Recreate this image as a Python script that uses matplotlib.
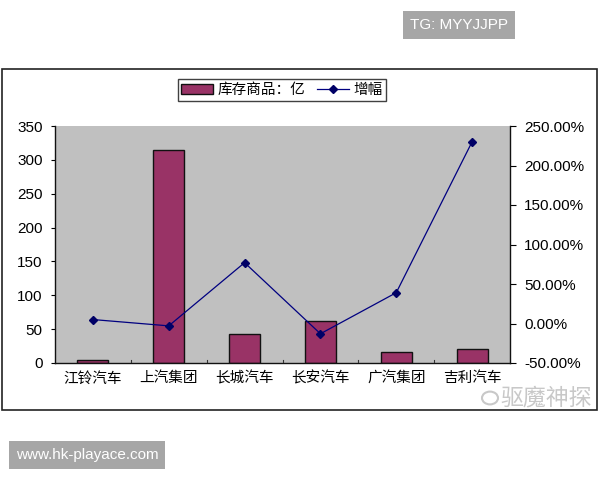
import matplotlib
matplotlib.use("Agg")
import matplotlib.pyplot as plt
from matplotlib.patches import Rectangle, Circle
from matplotlib.ticker import FuncFormatter

plt.rcParams['font.family'] = ['Liberation Sans', 'Noto Sans CJK SC', 'DejaVu Sans']

categories = ['江铃汽车', '上汽集团', '长城汽车', '长安汽车', '广汽集团', '吉利汽车']
inventory = [5, 314, 43, 62, 16, 20]
growth = [5.0, -3.0, 77.0, -13.0, 39.0, 230.0]
left_ticks = [0, 50, 100, 150, 200, 250, 300, 350]
right_ticks = [-50, 0, 50, 100, 150, 200, 250]
bar_label = '库存商品：亿'
line_label = '增幅'

fig = plt.figure(figsize=(6, 4.8), dpi=100)
fig.patch.set_facecolor('white')

# outer chart frame
fig.patches.append(Rectangle((2/600, 1 - 410/480), 595/600, (410-69)/480,
                             transform=fig.transFigure, fill=False,
                             edgecolor='#222222', linewidth=1.2))

ax = fig.add_axes([55/600, 1 - 363/480, 455/600, (363-126)/480])
ax.set_facecolor('#C0C0C0')
x = list(range(len(categories)))
bars = ax.bar(x, inventory, width=0.41, color='#993366', edgecolor='#111111',
              linewidth=1.0, zorder=2, label=bar_label)
ax.set_xlim(-0.5, len(categories) - 0.5)
ax.set_ylim(0, 350)
ax.set_yticks(left_ticks)
ax.set_xticks(x)
ax.set_xticklabels(categories, fontsize=10.5, family=['Noto Sans CJK SC', 'DejaVu Sans'])
ax.tick_params(axis='x', length=0, pad=6)
ax.tick_params(axis='y', labelsize=11, length=3, direction='out', pad=6)
for s in ['top', 'right']:
    ax.spines[s].set_visible(False)
for s in ['left', 'bottom']:
    ax.spines[s].set_color('#111111')
    ax.spines[s].set_linewidth(1.0)
# category separator ticks
for b in [i + 0.5 for i in range(len(categories) - 1)]:
    ax.plot([b, b], [0, 4], color='#333333', linewidth=0.8, zorder=3)

ax2 = ax.twinx()
line, = ax2.plot(x, growth, color='#000080', linewidth=0.9, marker='D',
                 markersize=4.5, markerfacecolor='#000066', markeredgecolor='#000066',
                 zorder=4, label=line_label)
ax2.set_ylim(-50, 250)
ax2.set_yticks(right_ticks)
ax2.yaxis.set_major_formatter(FuncFormatter(lambda v, p: f'{v:.2f}%'))
ax2.tick_params(axis='y', labelsize=11, length=4, direction='out', pad=6)
for s in ['top', 'left', 'bottom']:
    ax2.spines[s].set_visible(False)
ax2.spines['right'].set_color('#111111')
ax2.spines['right'].set_linewidth(1.0)

leg = fig.legend([bars, line], [bar_label, line_label], loc='center',
                 bbox_to_anchor=(282/600, 1 - 90/480), ncol=2, frameon=True,
                 fancybox=False, edgecolor='#111111',
                 prop={'family': ['Noto Sans CJK SC', 'DejaVu Sans'], 'size': 10.5},
                 handlelength=2.2, handletextpad=0.3, columnspacing=0.8,
                 borderpad=0.25, markerscale=0.8)
leg.get_frame().set_linewidth(1.0)

# watermarks
fig.text(459/600, 1 - 25/480, 'TG: MYYJJPP', ha='center', va='center',
         color='white', fontsize=11,
         bbox=dict(boxstyle='square,pad=0.45', facecolor='#A6A6A6', edgecolor='none'))
fig.text(87/600, 1 - 455/480, 'www.hk-playace.com', ha='center', va='center',
         color='white', fontsize=11,
         bbox=dict(boxstyle='square,pad=0.45', facecolor='#A6A6A6', edgecolor='none'))
fig.patches.append(Circle((490/600, 1 - 398/480), 8/600, transform=fig.transFigure,
                          fill=False, edgecolor='#C8C8C8', linewidth=1.5))
fig.text(546/600, 1 - 398/480, '驱魔神探', ha='center', va='center',
         color='#C8C8C8', fontsize=16.5, family=['Noto Sans CJK SC', 'DejaVu Sans'])

fig.savefig('out.png', dpi=100, facecolor='white')
